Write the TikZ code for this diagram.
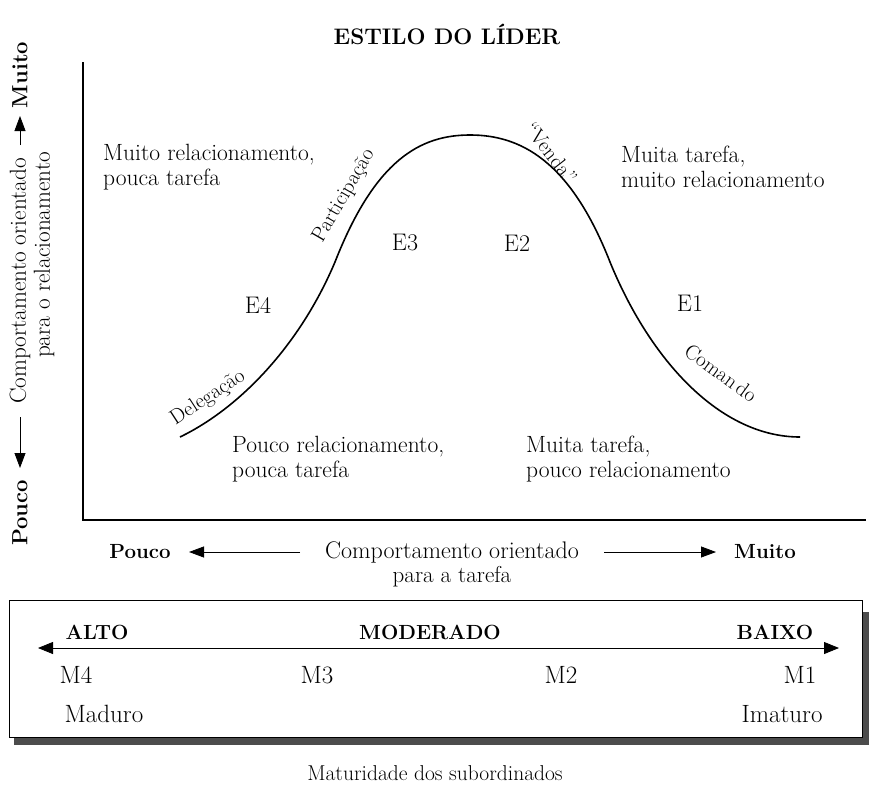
\documentclass[tikz,border=0pt]{standalone}
\usepackage{fontspec}
\usetikzlibrary{arrows.meta}
\begin{document}
\begin{tikzpicture}[x=1pt,y=-1pt,
  txt/.style={inner sep=0pt,font=\fontsize{24}{24}\selectfont},
  btxt/.style={inner sep=0pt,font=\fontsize{20.5}{22}\selectfont\bfseries},
  ml/.style={inner sep=0pt,font=\fontsize{23.5}{24.5}\selectfont,align=left,anchor=west},
  axis/.style={line width=1.2pt},
  arr/.style={line width=0.8pt,-{Triangle[length=15pt,width=11pt]}},
  curvelbl/.style={inner sep=0pt,font=\fontsize{21}{23}\selectfont}]
\useasboundingbox (0,0) rectangle (869,784);
% title
\node[inner sep=0pt,font=\fontsize{22.5}{24}\selectfont\bfseries] (title) at (447,34) {ESTILO DO LÍDER};
% axes
\coordinate (top) at (83,62);
\coordinate (orig) at (83,520);
\coordinate (right) at (866,520);
\draw[axis] (top) -- (orig) -- (right);
% left label
\node[btxt,font=\fontsize{22}{22}\selectfont\bfseries,rotate=90] (ypouco) at (20,513) {Pouco};
\node[inner sep=0pt,font=\fontsize{23.2}{24}\selectfont,rotate=90] (ycomp) at (20,281) {Comportamento orientado};
\node[btxt,font=\fontsize{22}{22}\selectfont\bfseries,rotate=90] (ymuito) at (20,75) {Muito};
\node[inner sep=0pt,font=\fontsize{23.2}{24}\selectfont,rotate=90] (ypara) at (44,255) {para o relacionamento};
\coordinate (ya1) at (20,417);
\coordinate (ya1t) at (20,468);
\coordinate (ya2) at (20,145);
\coordinate (ya2t) at (20,116);
\draw[arr] (ya1) -- (ya1t);
\draw[arr] (ya2) -- (ya2t);
% curve
\draw[line width=1.6pt] (180,437) .. controls (240,408) and (300,345) .. (335,262)
  .. controls (375,160) and (420,135) .. (470,135)
  .. controls (520,135) and (570,160) .. (610,262)
  .. controls (650,360) and (720,437) .. (800,437);
% curve labels
\node[curvelbl,rotate=33] (deleg) at (208,398) {Delegação};
\node[curvelbl,rotate=60] (partic) at (344,196) {Participação};
\node[curvelbl,rotate=-52] (venda) at (551,153) {“Venda”};
\node[curvelbl,rotate=-36] (comando) at (721,373) {Coman\hspace{3pt}do};
% quadrant texts
\node[ml] (q1) at (103,167) {Muito relacionamento,\\pouca tarefa};
\node[ml] (q2) at (621,167) {Muita tarefa,\\muito relacionamento};
\node[ml] (q3) at (232,459) {Pouco relacionamento,\\pouca tarefa};
\node[ml] (q4) at (526,459) {Muita tarefa,\\pouco relacionamento};
\node[txt] (e4) at (258,305) {E4};
\node[txt] (e3) at (405,243) {E3};
\node[txt] (e2) at (517,243) {E2};
\node[txt] (e1) at (690,303) {E1};
% bottom axis label
\node[btxt] (xpouco) at (140,552) {Pouco};
\node[txt] (xcomp) at (452,552) {Comportamento orientado};
\node[btxt] (xmuito) at (765,552) {Muito};
\node[inner sep=0pt,font=\fontsize{23}{24}\selectfont] (xpara) at (452,577) {para a tarefa};
\coordinate (xa1) at (300,552);
\coordinate (xa1t) at (189,552);
\coordinate (xa2) at (604,552);
\coordinate (xa2t) at (716,552);
\draw[arr] (xa1) -- (xa1t);
\draw[arr] (xa2) -- (xa2t);
% box with shadow
\fill[black!70] (14,737) rectangle (870,745);
\fill[black!70] (862,612) rectangle (870,745);
\draw[line width=1pt] (9,600) rectangle (862,737);
\coordinate (mleft) at (38,648);
\coordinate (mright) at (839,648);
\draw[line width=0.8pt,{Triangle[length=15pt,width=12pt]}-{Triangle[length=15pt,width=12pt]}] (mleft) -- (mright);
\node[btxt] (alto) at (97,632) {ALTO};
\node[btxt] (moder) at (430,632) {MODERADO};
\node[btxt] (baixo) at (775,632) {BAIXO};
\node[txt,font=\fontsize{25}{25}\selectfont] (m4) at (76,675) {M4};
\node[txt,font=\fontsize{25}{25}\selectfont] (m3) at (317,675) {M3};
\node[txt,font=\fontsize{25}{25}\selectfont] (m2) at (561,675) {M2};
\node[txt,font=\fontsize{25}{25}\selectfont] (m1) at (800,675) {M1};
\node[txt,font=\fontsize{25}{25}\selectfont] (maduro) at (104,714) {Maduro};
\node[txt,font=\fontsize{25}{25}\selectfont] (imaturo) at (782,714) {Imaturo};
\node[inner sep=0pt,font=\fontsize{21.5}{23}\selectfont] (matur) at (435,773) {Maturidade dos subordinados};
\end{tikzpicture}
\end{document}
